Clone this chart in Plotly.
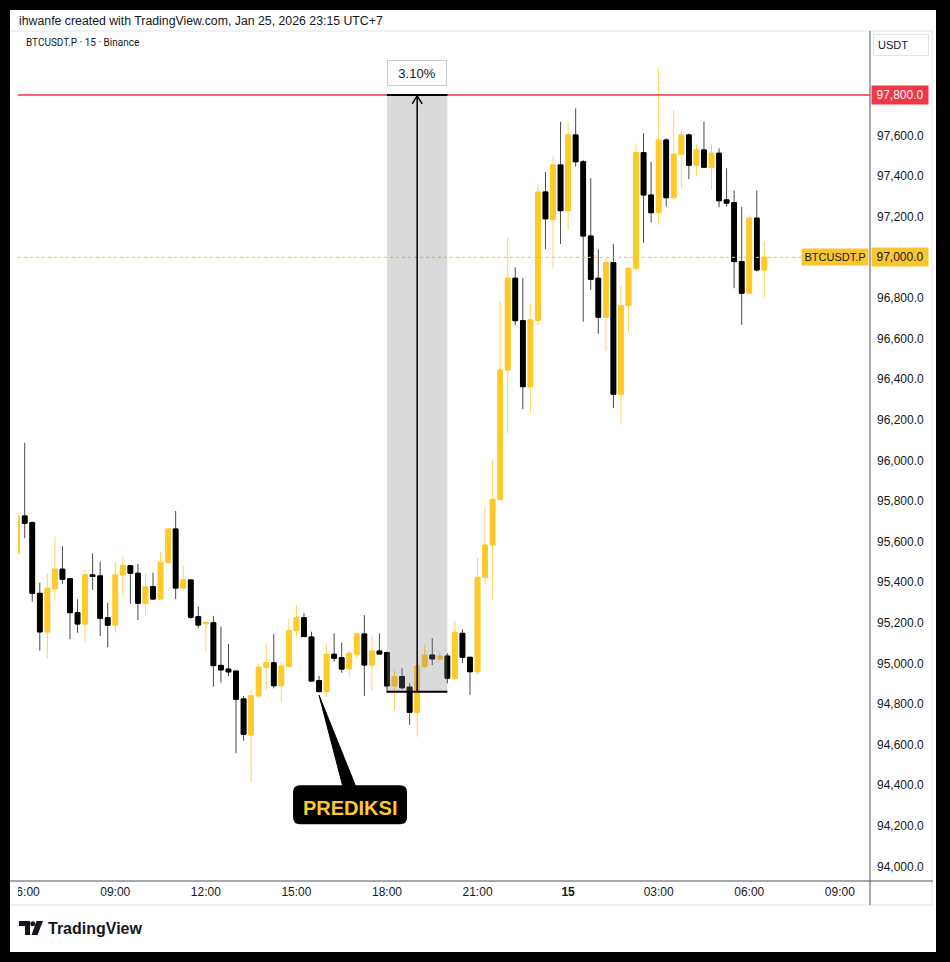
import pandas as pd
import plotly.graph_objects as go

# ---------------- data ----------------
TIMES = pd.date_range("2026-01-14 05:45", periods=100, freq="15min")

OPEN = [95544, 95726, 95693, 95345, 95155, 95368, 95464, 95417, 95250, 95194,
        95436, 95431, 95225, 95189, 95436, 95481, 95444, 95296, 95378, 95317,
        95498, 95662, 95371, 95411, 95230, 95195, 95200, 94990, 94972, 94962,
        94825, 94647, 94840, 94981, 95003, 94890, 94985, 95161, 95225, 95130,
        94915, 94861, 95045, 95028, 94974, 95046, 95145, 94992, 95061, 95053,
        94889, 94935, 94883, 94759, 94985, 95041, 95022, 95036, 94927, 95148,
        95030, 94959, 95424, 95583, 95808, 96445, 96897, 96688, 96363, 96690,
        97322, 97188, 97455, 97230, 97603, 97471, 97105, 96897, 96705, 96974,
        96326, 96762, 96946, 97516, 97307, 97220, 97578, 97294, 97508, 97603,
        97454, 97529, 97444, 97513, 97283, 97270, 96979, 96823, 97193, 96938]
HIGH = [96027, 96087, 95700, 95398, 95444, 95624, 95578, 95420, 95316, 95460,
        95542, 95501, 95299, 95501, 95526, 95481, 95490, 95444, 95447, 95547,
        95666, 95751, 95480, 95415, 95279, 95206, 95234, 95181, 95096, 94964,
        94839, 94869, 95000, 95096, 95145, 95008, 95222, 95288, 95247, 95156,
        94938, 95094, 95148, 95102, 95061, 95148, 95238, 95132, 95148, 95058,
        94968, 94976, 94902, 95000, 95094, 95124, 95058, 95050, 95210, 95168,
        95030, 95518, 95772, 95999, 96782, 97099, 96951, 96897, 96770, 97360,
        97420, 97496, 97668, 97668, 97734, 97480, 97390, 97040, 96996, 97066,
        96859, 96951, 97559, 97611, 97471, 97932, 97587, 97726, 97624, 97610,
        97559, 97668, 97559, 97537, 97439, 97329, 97250, 97209, 97329, 97077]
LOW = [95460, 95616, 95304, 95063, 95023, 95309, 95391, 95119, 95151, 95102,
       95362, 95135, 95079, 95155, 95329, 95293, 95214, 95234, 95312, 95317,
       95490, 95317, 95362, 95219, 95173, 95058, 94885, 94905, 94938, 94557,
       94619, 94416, 94830, 94869, 94877, 94811, 94985, 95132, 95130, 94910,
       94858, 94836, 95008, 94954, 94932, 95025, 94840, 94866, 95046, 94853,
       94771, 94872, 94697, 94639, 94975, 94992, 95008, 94902, 94920, 95001,
       94844, 94943, 95391, 95309, 95801, 96130, 96667, 96252, 96232, 96667,
       97041, 96946, 97066, 97135, 97447, 96683, 96839, 96623, 96540, 96257,
       96179, 96634, 96930, 97072, 97171, 97160, 97250, 97279, 97340, 97385,
       97398, 97439, 97332, 97247, 97250, 96848, 96667, 96820, 96930, 96803]
CLOSE = [95726, 95690, 95345, 95155, 95370, 95464, 95414, 95250, 95194, 95436,
         95428, 95222, 95188, 95436, 95483, 95444, 95296, 95378, 95317, 95498,
         95662, 95371, 95411, 95227, 95189, 95200, 94989, 94968, 94958, 94823,
         94651, 94840, 94981, 95003, 94890, 94987, 95161, 95225, 95132, 94913,
         94861, 95045, 95025, 94972, 95050, 95145, 94992, 95061, 95046, 94889,
         94935, 94880, 94759, 94987, 95041, 95022, 95036, 94927, 95153, 95030,
         94959, 95424, 95583, 95808, 96445, 96897, 96688, 96363, 96692, 97322,
         97190, 97455, 97230, 97603, 97471, 97105, 96892, 96705, 96974, 96326,
         96762, 96946, 97516, 97307, 97220, 97578, 97294, 97508, 97603, 97454,
         97529, 97444, 97513, 97279, 97267, 96979, 96823, 97193, 96938, 97000]

PRICE_TICKS = [94000, 94200, 94400, 94600, 94800, 95000, 95200, 95400, 95600,
               95800, 96000, 96200, 96400, 96600, 96800, 97000, 97200, 97400,
               97600, 97800]
TIME_TICKS = ["2026-01-14 06:00", "2026-01-14 09:00", "2026-01-14 12:00",
              "2026-01-14 15:00", "2026-01-14 18:00", "2026-01-14 21:00",
              "2026-01-15 00:00", "2026-01-15 03:00", "2026-01-15 06:00",
              "2026-01-15 09:00"]
TIME_LABELS = ["06:00", "09:00", "12:00", "15:00", "18:00", "21:00",
               "<b>15</b>", "03:00", "06:00", "09:00"]

ALERT_PRICE = 97800
LAST_PRICE = 97000
SYMBOL = "BTCUSDT.P"
MEASURE_START = "2026-01-14 18:00"
MEASURE_MID = "2026-01-14 19:00"
MEASURE_END = "2026-01-14 20:00"
MEASURE_FROM = 94860
MEASURE_TO = 97800
PREDIKSI_INDEX = 40

X_RANGE = ["2026-01-14 05:46:40", "2026-01-15 10:00:00"]
Y_RANGE = [93933, 98110]

# ---------------- styling ----------------
W, H = 950, 962
ML, MR, MT, MB = 18, 80, 32, 82
UP, DN = "#FFC928", "#000000"
WICK_UP, WICK_DN = "#FFD35A", "#4A4A4A"
TXT = "#131722"
FONT = "Liberation Sans, Arial, sans-serif"


def px(x):
    return (x - ML) / (W - ML - MR)


def py(y):
    return 1 - (y - MT) / (H - MT - MB)


def ppath(points):
    s = "M " + " L ".join(f"{px(a):.5f},{py(b):.5f}" for a, b in points) + " Z"
    return s


fig = go.Figure()

# wicks
fig.add_trace(go.Candlestick(
    x=TIMES, open=OPEN, high=HIGH, low=LOW, close=CLOSE,
    increasing=dict(line=dict(color=WICK_UP, width=1), fillcolor=WICK_UP),
    decreasing=dict(line=dict(color=WICK_DN, width=1), fillcolor=WICK_DN),
    showlegend=False, hoverinfo="skip"))
# bodies
body_hi = [max(o, c) for o, c in zip(OPEN, CLOSE)]
body_lo = [min(o, c) for o, c in zip(OPEN, CLOSE)]
fig.add_trace(go.Candlestick(
    x=TIMES, open=OPEN, high=body_hi, low=body_lo, close=CLOSE,
    increasing=dict(line=dict(color=UP, width=1), fillcolor=UP),
    decreasing=dict(line=dict(color=DN, width=1), fillcolor=DN),
    showlegend=False, hoverinfo="skip"))

shapes = []
# white page inside black frame
shapes.append(dict(type="rect", xref="paper", yref="paper", x0=px(10), x1=px(936),
                   y0=py(952), y1=py(10), fillcolor="white", line=dict(width=0), layer="below"))
# container borders
for (xa, ya, xb, yb, col) in [
    (10, 31, 933, 31, "#e0e3eb"),
    (10, 905, 933, 905, "#e0e3eb"),
    (932, 31, 932, 905, "#e0e3eb"),
    (10, 881, 933, 881, "#50535e"),
    (870, 31, 870, 905, "#50535e"),
]:
    shapes.append(dict(type="line", xref="paper", yref="paper", x0=px(xa), x1=px(xb),
                       y0=py(ya), y1=py(yb), line=dict(color=col, width=1), layer="above"))
# mask for clipped first time label
shapes.append(dict(type="rect", xref="paper", yref="paper", x0=px(10), x1=px(18),
                   y0=py(904), y1=py(882), fillcolor="white", line=dict(width=0), layer="above"))

# last price dotted line
shapes.append(dict(type="line", xref="paper", yref="y", x0=0, x1=px(802), y0=LAST_PRICE, y1=LAST_PRICE,
                   line=dict(color="#F7C325", width=1, dash="dot"), layer="above"))
# alert line
shapes.append(dict(type="line", xref="paper", yref="y", x0=0, x1=1, y0=ALERT_PRICE, y1=ALERT_PRICE,
                   line=dict(color="#F23645", width=1.5), layer="above"))

# measurement tool
shapes.append(dict(type="rect", xref="x", yref="y", x0=MEASURE_START, x1=MEASURE_END,
                   y0=MEASURE_FROM, y1=MEASURE_TO, fillcolor="rgba(128,128,128,0.29)",
                   line=dict(width=0), layer="above"))
for yv in (MEASURE_FROM, MEASURE_TO):
    shapes.append(dict(type="line", xref="x", yref="y", x0=MEASURE_START, x1=MEASURE_END,
                       y0=yv, y1=yv, line=dict(color="#000000", width=2), layer="above"))
shapes.append(dict(type="line", xref="x", yref="y", x0=MEASURE_MID, x1=MEASURE_MID,
                   y0=MEASURE_FROM, y1=MEASURE_TO, line=dict(color="#000000", width=1.5), layer="above"))
shapes.append(dict(type="path", xref="x", yref="y", xsizemode="pixel", ysizemode="pixel",
                   xanchor=MEASURE_MID, yanchor=MEASURE_TO,
                   path="M -5,-9 L 0,-1 L 5,-9", line=dict(color="#000000", width=1.5), layer="above"))

# PREDIKSI callout (anchored at the low of the marked candle)
p_time = TIMES[PREDIKSI_INDEX].strftime("%Y-%m-%d %H:%M:%S")
p_low = LOW[PREDIKSI_INDEX]
shapes.append(dict(type="path", xref="x", yref="y", xsizemode="pixel", ysizemode="pixel",
                   xanchor=p_time, yanchor=p_low,
                   path="M 0,-3 L 24,-95 L 37,-95 Z",
                   fillcolor="#000000", line=dict(color="#000000", width=1), layer="above"))
shapes.append(dict(type="path", xref="x", yref="y", xsizemode="pixel", ysizemode="pixel",
                   xanchor=p_time, yanchor=p_low,
                   path=("M -19,-93 L 81,-93 Q 88,-93 88,-100 L 88,-125 Q 88,-132 81,-132 "
                         "L -19,-132 Q -26,-132 -26,-125 L -26,-100 Q -26,-93 -19,-93 Z"),
                   fillcolor="#000000", line=dict(width=0), layer="above"))

# TradingView logo glyph
shapes.append(dict(type="path", xref="paper", yref="paper",
                   path=ppath([(19, 921), (30, 921), (30, 935), (25, 935), (25, 926), (19, 926)]),
                   fillcolor=TXT, line=dict(width=0), layer="above"))
shapes.append(dict(type="circle", xref="paper", yref="paper", x0=px(30.3), x1=px(35.3),
                   y0=py(926.2), y1=py(921.2), fillcolor=TXT, line=dict(width=0), layer="above"))
shapes.append(dict(type="path", xref="paper", yref="paper",
                   path=ppath([(36.5, 921), (43, 921), (37.5, 935), (31.5, 935)]),
                   fillcolor=TXT, line=dict(width=0), layer="above"))

annotations = []
annotations.append(dict(xref="paper", yref="paper", x=px(17), y=py(21), xanchor="left", yanchor="middle",
                        text="ihwanfe created with TradingView.com, Jan 25, 2026 23:15 UTC+7",
                        showarrow=False, font=dict(size=12.3, color=TXT, family=FONT)))
annotations.append(dict(xref="paper", yref="paper", x=px(24), y=py(43), xanchor="left", yanchor="middle",
                        text=f"{SYMBOL} · 15 · Binance", showarrow=False,
                        font=dict(size=10, color=TXT, family="Roboto, Liberation Sans, sans-serif")))
annotations.append(dict(xref="paper", yref="paper", x=1, xshift=3, y=py(44.5), xanchor="left",
                        yanchor="middle", text="USDT", align="left", width=46, borderpad=4,
                        bordercolor="#e0e3eb", borderwidth=1, bgcolor="white", showarrow=False,
                        font=dict(size=11, color=TXT, family=FONT)))
annotations.append(dict(xref="paper", yref="y", x=1, xshift=1, y=ALERT_PRICE, xanchor="left",
                        yanchor="middle", text=f"{ALERT_PRICE:,.1f}", bgcolor="#F23645", width=52,
                        borderpad=2, showarrow=False, font=dict(size=12, color="white", family=FONT)))
annotations.append(dict(xref="paper", yref="y", x=1, xshift=1, y=LAST_PRICE, xanchor="left",
                        yanchor="middle", text=f"{LAST_PRICE:,.1f}", bgcolor="#F9C630", width=52,
                        borderpad=2, showarrow=False, font=dict(size=12, color=TXT, family=FONT)))
annotations.append(dict(xref="paper", yref="y", x=1, xshift=-1, y=LAST_PRICE, xanchor="right",
                        yanchor="middle", text=SYMBOL, bgcolor="#F9C630", width=62,
                        borderpad=2, showarrow=False, font=dict(size=11, color=TXT, family=FONT)))
pct = (MEASURE_TO / MEASURE_FROM - 1) * 100
annotations.append(dict(xref="x", yref="y", x=MEASURE_MID, y=MEASURE_TO, yanchor="bottom", yshift=9,
                        text=f"{pct:.2f}%", bgcolor="white", bordercolor="#c9cbd1", borderwidth=1,
                        borderpad=4, width=50, height=16, showarrow=False,
                        font=dict(size=13, color=TXT, family=FONT)))
annotations.append(dict(xref="x", yref="y", x=p_time, y=p_low, xshift=31, yshift=-115.5,
                        text="<b>PREDIKSI</b>", showarrow=False,
                        font=dict(size=20, color="#FFCA28", family=FONT)))
annotations.append(dict(xref="paper", yref="paper", x=px(46), y=py(928.5), xanchor="left", yanchor="middle",
                        text="<b>TradingView</b>", showarrow=False,
                        font=dict(size=16, color=TXT, family=FONT)))

fig.update_layout(
    width=W, height=H,
    margin=dict(l=ML, r=MR, t=MT, b=MB, autoexpand=False),
    paper_bgcolor="black", plot_bgcolor="white",
    boxgap=0.25, boxgroupgap=0.17,
    font=dict(family=FONT, color=TXT, size=12),
    showlegend=False, hovermode=False,
    shapes=shapes, annotations=annotations,
)
fig.update_xaxes(type="date", range=X_RANGE, rangeslider_visible=False, showgrid=False,
                 zeroline=False, showline=False, ticks="", tickvals=TIME_TICKS, ticktext=TIME_LABELS,
                 tickfont=dict(size=12, color=TXT, family=FONT), ticklabelstandoff=3)
fig.update_yaxes(side="right", range=Y_RANGE, showgrid=False, zeroline=False, showline=False,
                 ticks="", tickvals=PRICE_TICKS, ticktext=[f"{v:,.1f}" for v in PRICE_TICKS],
                 tickfont=dict(size=12, color=TXT, family=FONT), ticklabelstandoff=6)

fig.write_html("out.html", config={"displayModeBar": False},
               post_script="document.body.style.margin='0';document.body.style.padding='0';")
